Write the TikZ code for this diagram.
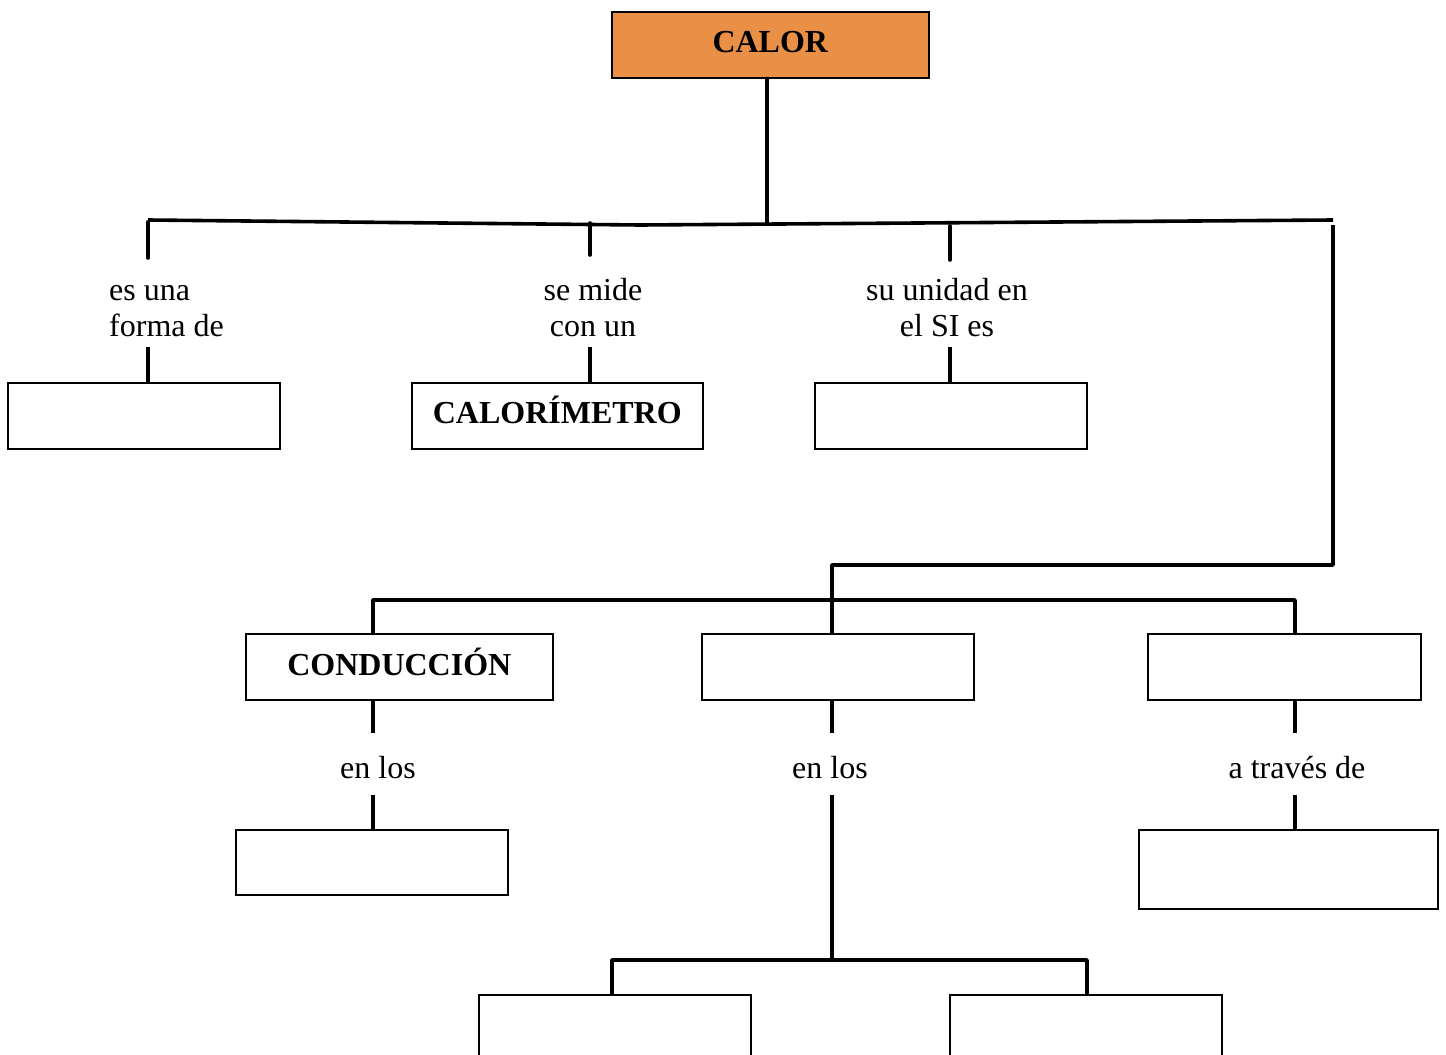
\documentclass[tikz,border=0pt]{standalone}
\usepackage{fontspec}
\setmainfont{Liberation Serif}
\definecolor{calororange}{RGB}{233,143,70}
\begin{document}
\begin{tikzpicture}[x=1pt,y=-1pt,
  box/.style={draw=black,line width=1.6pt,rectangle,inner sep=0pt,anchor=north west},
  link/.style={line width=3.6pt,line cap=round},
  bus/.style={line width=3.6pt,line join=round},
  word/.style={inner sep=0pt,font=\fontsize{32}{36}\selectfont},
  title/.style={font=\fontsize{32}{36}\selectfont\bfseries,yshift=5pt}]
\useasboundingbox (0,0) rectangle (1446,1055);
% concept boxes
\node[box,fill=calororange,minimum width=317pt,minimum height=66pt] (calor) at (611,11) {};
\node[title,yshift=-2pt] at (calor.center) {CALOR};
\node[box,minimum width=272pt,minimum height=66pt] (forma) at (7,382) {};
\node[box,minimum width=291pt,minimum height=66pt] (calorim) at (411,382) {};
\node[title,yshift=1pt] at (calorim.center) {CALORÍMETRO};
\node[box,minimum width=272pt,minimum height=66pt] (unidad) at (814,382) {};
\node[box,minimum width=307pt,minimum height=66pt] (conduc) at (245,633) {};
\node[title] at (conduc.center) {CONDUCCIÓN};
\node[box,minimum width=272pt,minimum height=66pt] (convec) at (701,633) {};
\node[box,minimum width=273pt,minimum height=66pt] (radiac) at (1147,633) {};
\node[box,minimum width=272pt,minimum height=65pt] (solidos) at (235,829) {};
\node[box,minimum width=299pt,minimum height=79pt] (vacio) at (1138,829) {};
\node[box,minimum width=272pt,minimum height=80pt] (liquidos) at (478,994) {};
\node[box,minimum width=272pt,minimum height=80pt] (gases) at (949,994) {};
% linking words
\node[word,anchor=west,align=left] (l1) at (109,311) {es una\\forma de};
\node[word,align=center] (l2) at (593,308) {se mide\\ con un};
\node[word,align=center] (l3) at (947,308) {su unidad en\\ el SI es};
\node[word] (l4) at (378,768) {en los};
\node[word] (l5) at (830,768) {en los};
\node[word] (l6) at (1297,768) {a través de};
% top bus
\coordinate (tl) at (148,220);
\coordinate (tm) at (640,225);
\coordinate (tr) at (1333,220);
\draw[bus] (tl) -- (tm) -- (tr);
\draw[link,line cap=butt] (calor.south -| 767,0) -- (767,223.5);
\draw[link] (148,222) -- (148,258);
\draw[link] (590,223) -- (590,255);
\draw[link] (950,226) -- (950,260);
\draw[link,line cap=butt] (148,347) -- (forma.north -| 148,0);
\draw[link,line cap=butt] (590,347) -- (calorim.north -| 590,0);
\draw[link,line cap=butt] (950,347) -- (unidad.north -| 950,0);
% branch to the three ways of transfer
\draw[bus] (1333,225) -- (1333,565) -- (832,565) -- (convec.north -| 832,0);
\draw[bus] (conduc.north -| 373,0) -- (373,600) -- (1295,600) -- (radiac.north -| 1295,0);
\draw[link,line cap=butt] (conduc.south -| 373,0) -- (373,733);
\draw[link,line cap=butt] (convec.south -| 832,0) -- (832,733);
\draw[link,line cap=butt] (radiac.south -| 1295,0) -- (1295,733);
\draw[link,line cap=butt] (373,795) -- (solidos.north -| 373,0);
\draw[link,line cap=butt] (1295,795) -- (vacio.north -| 1295,0);
\draw[link,line cap=butt] (832,795) -- (832,960);
\draw[bus] (liquidos.north -| 612,0) -- (612,960) -- (1087,960) -- (gases.north -| 1087,0);
\end{tikzpicture}
\end{document}
